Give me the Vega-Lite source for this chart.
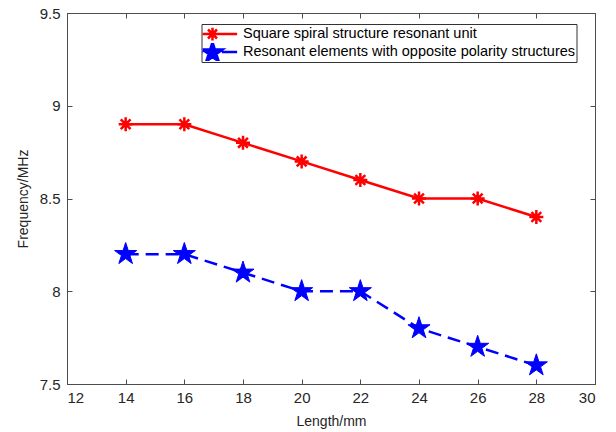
{
  "$schema": "https://vega.github.io/schema/vega-lite/v6.json",
  "width": 528,
  "height": 371,
  "autosize": {"type": "none"},
  "padding": {"left": 67, "top": 13, "right": 21, "bottom": 48},
  "background": "white",
  "config": {
    "font": "Liberation Sans",
    "view": {"stroke": "#4d4d4d", "strokeWidth": 1},
    "axis": {
      "domainColor": "#4d4d4d",
      "tickColor": "#4d4d4d",
      "labelColor": "#262626",
      "titleColor": "#262626",
      "labelFont": "Liberation Sans",
      "titleFont": "Liberation Sans",
      "labelFontSize": 15,
      "titleFontSize": 14,
      "titleFontWeight": "normal",
      "grid": false
    },
    "legend": {
      "orient": "none",
      "legendX": 134.5,
      "legendY": 11,
      "strokeColor": "#333333",
      "fillColor": "white",
      "padding": 1,
      "rowPadding": 0,
      "clipHeight": 18,
      "symbolSize": 289,
      "symbolStrokeWidth": 2.5,
      "labelOffset": 20.5,
      "labelFont": "Liberation Sans",
      "labelFontSize": 14.5,
      "labelColor": "#000000",
      "labelLimit": 400
    }
  },
  "data": {
    "values": [
      {"length": 14, "freq": 8.9, "series": "Square spiral structure resonant unit"},
      {"length": 16, "freq": 8.9, "series": "Square spiral structure resonant unit"},
      {"length": 18, "freq": 8.8, "series": "Square spiral structure resonant unit"},
      {"length": 20, "freq": 8.7, "series": "Square spiral structure resonant unit"},
      {"length": 22, "freq": 8.6, "series": "Square spiral structure resonant unit"},
      {"length": 24, "freq": 8.5, "series": "Square spiral structure resonant unit"},
      {"length": 26, "freq": 8.5, "series": "Square spiral structure resonant unit"},
      {"length": 28, "freq": 8.4, "series": "Square spiral structure resonant unit"},
      {"length": 14, "freq": 8.2, "series": "Resonant elements with opposite polarity structures"},
      {"length": 16, "freq": 8.2, "series": "Resonant elements with opposite polarity structures"},
      {"length": 18, "freq": 8.1, "series": "Resonant elements with opposite polarity structures"},
      {"length": 20, "freq": 8.0, "series": "Resonant elements with opposite polarity structures"},
      {"length": 22, "freq": 8.0, "series": "Resonant elements with opposite polarity structures"},
      {"length": 24, "freq": 7.8, "series": "Resonant elements with opposite polarity structures"},
      {"length": 26, "freq": 7.7, "series": "Resonant elements with opposite polarity structures"},
      {"length": 28, "freq": 7.6, "series": "Resonant elements with opposite polarity structures"}
    ]
  },
  "layer": [
    {
      "transform": [{"filter": {"field": "series", "equal": "Square spiral structure resonant unit"}}],
      "mark": {"type": "line", "strokeWidth": 2.5, "color": "#ff0000"},
      "encoding": {
        "x": {
          "field": "length", "type": "quantitative",
          "scale": {"domain": [12, 30], "nice": false, "zero": false},
          "axis": {"title": "Length/mm", "values": [12, 14, 16, 18, 20, 22, 24, 26, 28, 30], "tickSize": -5, "labelPadding": 11, "titlePadding": 9, "domain": true}
        },
        "y": {
          "field": "freq", "type": "quantitative",
          "scale": {"domain": [7.5, 9.5], "nice": false, "zero": false},
          "axis": {"title": "Frequency/MHz", "format": "~g", "values": [7.5, 8, 8.5, 9, 9.5], "tickSize": -5, "labelPadding": 12, "titlePadding": 9, "labelFlush": false}
        }
      }
    },
    {
      "transform": [{"filter": {"field": "series", "equal": "Resonant elements with opposite polarity structures"}}],
      "mark": {"type": "line", "strokeWidth": 2.5, "color": "#0000ff", "strokeDash": [13, 7]},
      "encoding": {
        "x": {
          "field": "length", "type": "quantitative",
          "axis": {"orient": "top", "title": null, "labels": false, "values": [12, 14, 16, 18, 20, 22, 24, 26, 28, 30], "tickSize": -5, "domain": false}
        },
        "y": {
          "field": "freq", "type": "quantitative",
          "axis": {"orient": "right", "title": null, "labels": false, "values": [7.5, 8, 8.5, 9, 9.5], "tickSize": -5, "domain": false}
        }
      }
    },
    {
      "transform": [{"filter": {"field": "series", "equal": "Square spiral structure resonant unit"}}],
      "mark": {"type": "point", "filled": false, "opacity": 1, "strokeWidth": 2.5, "stroke": "#ff0000", "size": 196, "shape": "M0,-1V1M-1,0H1M-0.7,-0.7L0.7,0.7M-0.7,0.7L0.7,-0.7"},
      "encoding": {
        "x": {"field": "length", "type": "quantitative", "axis": null},
        "y": {"field": "freq", "type": "quantitative", "axis": null}
      }
    },
    {
      "transform": [{"filter": {"field": "series", "equal": "Resonant elements with opposite polarity structures"}}],
      "mark": {"type": "point", "filled": true, "opacity": 1, "fill": "#0000ff", "stroke": "#0000ff", "strokeWidth": 1, "size": 540, "shape": "M0,-1L0.225,-0.309L0.951,-0.309L0.363,0.118L0.588,0.809L0,0.382L-0.588,0.809L-0.363,0.118L-0.951,-0.309L-0.225,-0.309Z"},
      "encoding": {
        "x": {"field": "length", "type": "quantitative", "axis": null},
        "y": {"field": "freq", "type": "quantitative", "axis": null}
      }
    },
    {
      "transform": [{"filter": {"field": "length", "gt": 1000}}],
      "mark": {"type": "point", "filled": true, "opacity": 1, "strokeWidth": 2.5, "size": 289},
      "encoding": {
        "color": {
          "field": "series", "type": "nominal",
          "scale": {"domain": ["Square spiral structure resonant unit", "Resonant elements with opposite polarity structures"], "range": ["#ff0000", "#0000ff"]},
          "legend": {"title": null}
        },
        "stroke": {
          "field": "series", "type": "nominal",
          "scale": {"domain": ["Square spiral structure resonant unit", "Resonant elements with opposite polarity structures"], "range": ["#ff0000", "#0000ff"]},
          "legend": {"title": null}
        },
        "shape": {
          "field": "series", "type": "nominal",
          "scale": {"domain": ["Square spiral structure resonant unit", "Resonant elements with opposite polarity structures"], "range": ["M-2.9,0H2.9M0,-0.75V0.75M-0.75,0H0.75M-0.53,-0.53L0.53,0.53M-0.53,0.53L0.53,-0.53", "M-2.9,0H-1.1M1.1,0H2.9M0,-1.15L0.281,-0.286L1.189,-0.286L0.454,0.248L0.735,1.111L0,0.578L-0.735,1.111L-0.454,0.248L-1.189,-0.286L-0.281,-0.286Z"]},
          "legend": {"title": null}
        }
      }
    }
  ],
  "resolve": {"axis": {"x": "independent", "y": "independent"}}
}
